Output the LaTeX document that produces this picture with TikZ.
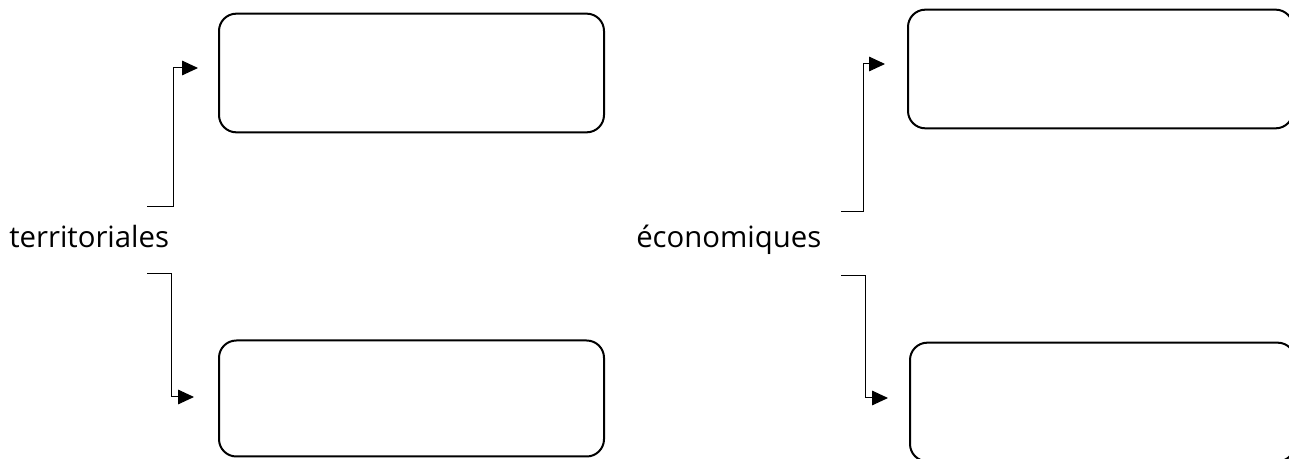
\documentclass[tikz,border=0pt]{standalone}
\usepackage{fontspec}
\setmainfont{Open Sans}
\usetikzlibrary{arrows.meta}
\tikzset{
  panel/.style={draw, line width=1.5pt, rounded corners=13pt, minimum width=288.75pt, minimum height=89pt, inner sep=0pt},
  link/.style={line width=0.75pt, -{Triangle[length=12pt,width=11pt]}},
  word/.style={anchor=base west, inner sep=0pt, font=\fontsize{22}{26}\selectfont}
}
\begin{document}
\begin{tikzpicture}[x=0.75pt,y=-0.75pt]
\clip (0,0) rectangle (1289,459);
% the two words
\node[word] (terr) at (9,248) {territoriales};
\node[word] (econ) at (636,248) {économiques};
% the four empty boxes
\node[panel] (terrUp) at (411.5,73) {};
\node[panel, minimum height=87pt] (terrDown) at (411.5,398.5) {};
\node[panel] (econUp) at (1100.5,69) {};
\node[panel] (econDown) at (1102.5,402) {};
% loose ends of the links
\coordinate (A) at (147,207);
\coordinate (B) at (147,274);
\coordinate (C) at (841,212);
\coordinate (D) at (841,276);
\draw[link] (A) -- ++(26,0) |- ([shift={(-20,-5)}]terrUp.west);
\draw[link] (B) -- ++(24,0) |- ([shift={(-24,-1.5)}]terrDown.west);
\draw[link] (C) -- ++(22,0) |- ([shift={(-22,-5)}]econUp.west);
\draw[link] (D) -- ++(24,0) |- ([shift={(-21,-4)}]econDown.west);
\end{tikzpicture}
\end{document}
